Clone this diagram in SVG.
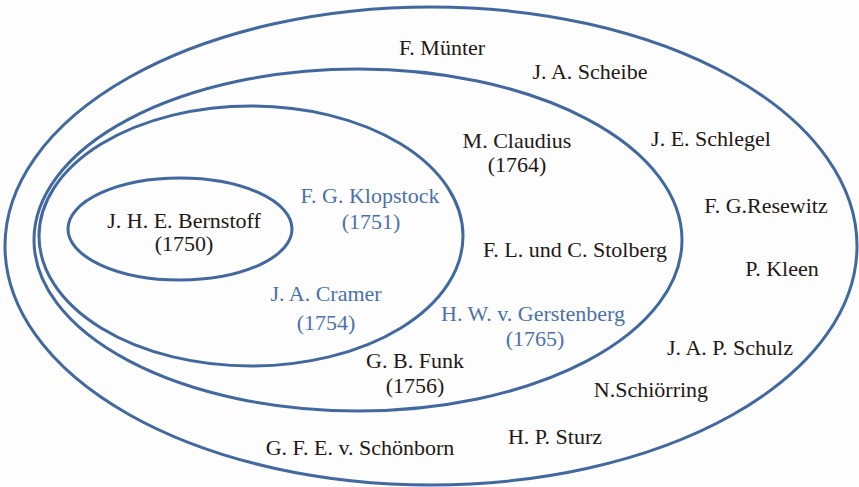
<svg xmlns="http://www.w3.org/2000/svg" width="859" height="487" viewBox="0 0 859 487">
<style>
.ring{fill:none;stroke:#4169a0;stroke-width:3}
.t{font-family:'Liberation Serif','Times New Roman',serif;font-size:22px;fill:#231815;text-anchor:middle}
.b{fill:#4a72a8}
</style>
<rect width="859" height="487" fill="#fdfdfd"/>
<g id="ring-outer"><ellipse class="ring" cx="431" cy="246" rx="426" ry="239"/></g>
<g id="ring-middle"><ellipse class="ring" cx="358" cy="240" rx="324" ry="171"/></g>
<g id="ring-third"><ellipse class="ring" cx="251" cy="236" rx="212" ry="130"/></g>
<g id="ring-inner"><ellipse class="ring" cx="180" cy="229" rx="112" ry="51"/></g>
<g class="t">
<g id="labels-inner">
<text x="184" y="228">J. H. E. Bernstoff</text>
<text x="184" y="251">(1750)</text>
</g>
<g id="labels-third">
<text class="b" x="370" y="203">F. G. Klopstock</text>
<text class="b" x="371" y="229">(1751)</text>
<text class="b" x="326" y="301">J. A. Cramer</text>
<text class="b" x="326" y="330">(1754)</text>
</g>
<g id="labels-middle">
<text x="517" y="148">M. Claudius</text>
<text x="517" y="172">(1764)</text>
<text x="575" y="257">F. L. und C. Stolberg</text>
<text class="b" x="533" y="321">H. W. v. Gerstenberg</text>
<text class="b" x="535" y="346">(1765)</text>
<text x="415" y="368">G. B. Funk</text>
<text x="415" y="393">(1756)</text>
</g>
<g id="labels-outer">
<text x="442" y="55">F. Münter</text>
<text x="590" y="79">J. A. Scheibe</text>
<text x="711" y="146">J. E. Schlegel</text>
<text x="766" y="213">F. G.Resewitz</text>
<text x="782" y="276">P. Kleen</text>
<text x="730" y="355">J. A. P. Schulz</text>
<text x="651" y="397">N.Schiörring</text>
<text x="555" y="444">H. P. Sturz</text>
<text x="360" y="455">G. F. E. v. Schönborn</text>
</g>
</g>
<g id="connectors"></g>
</svg>
